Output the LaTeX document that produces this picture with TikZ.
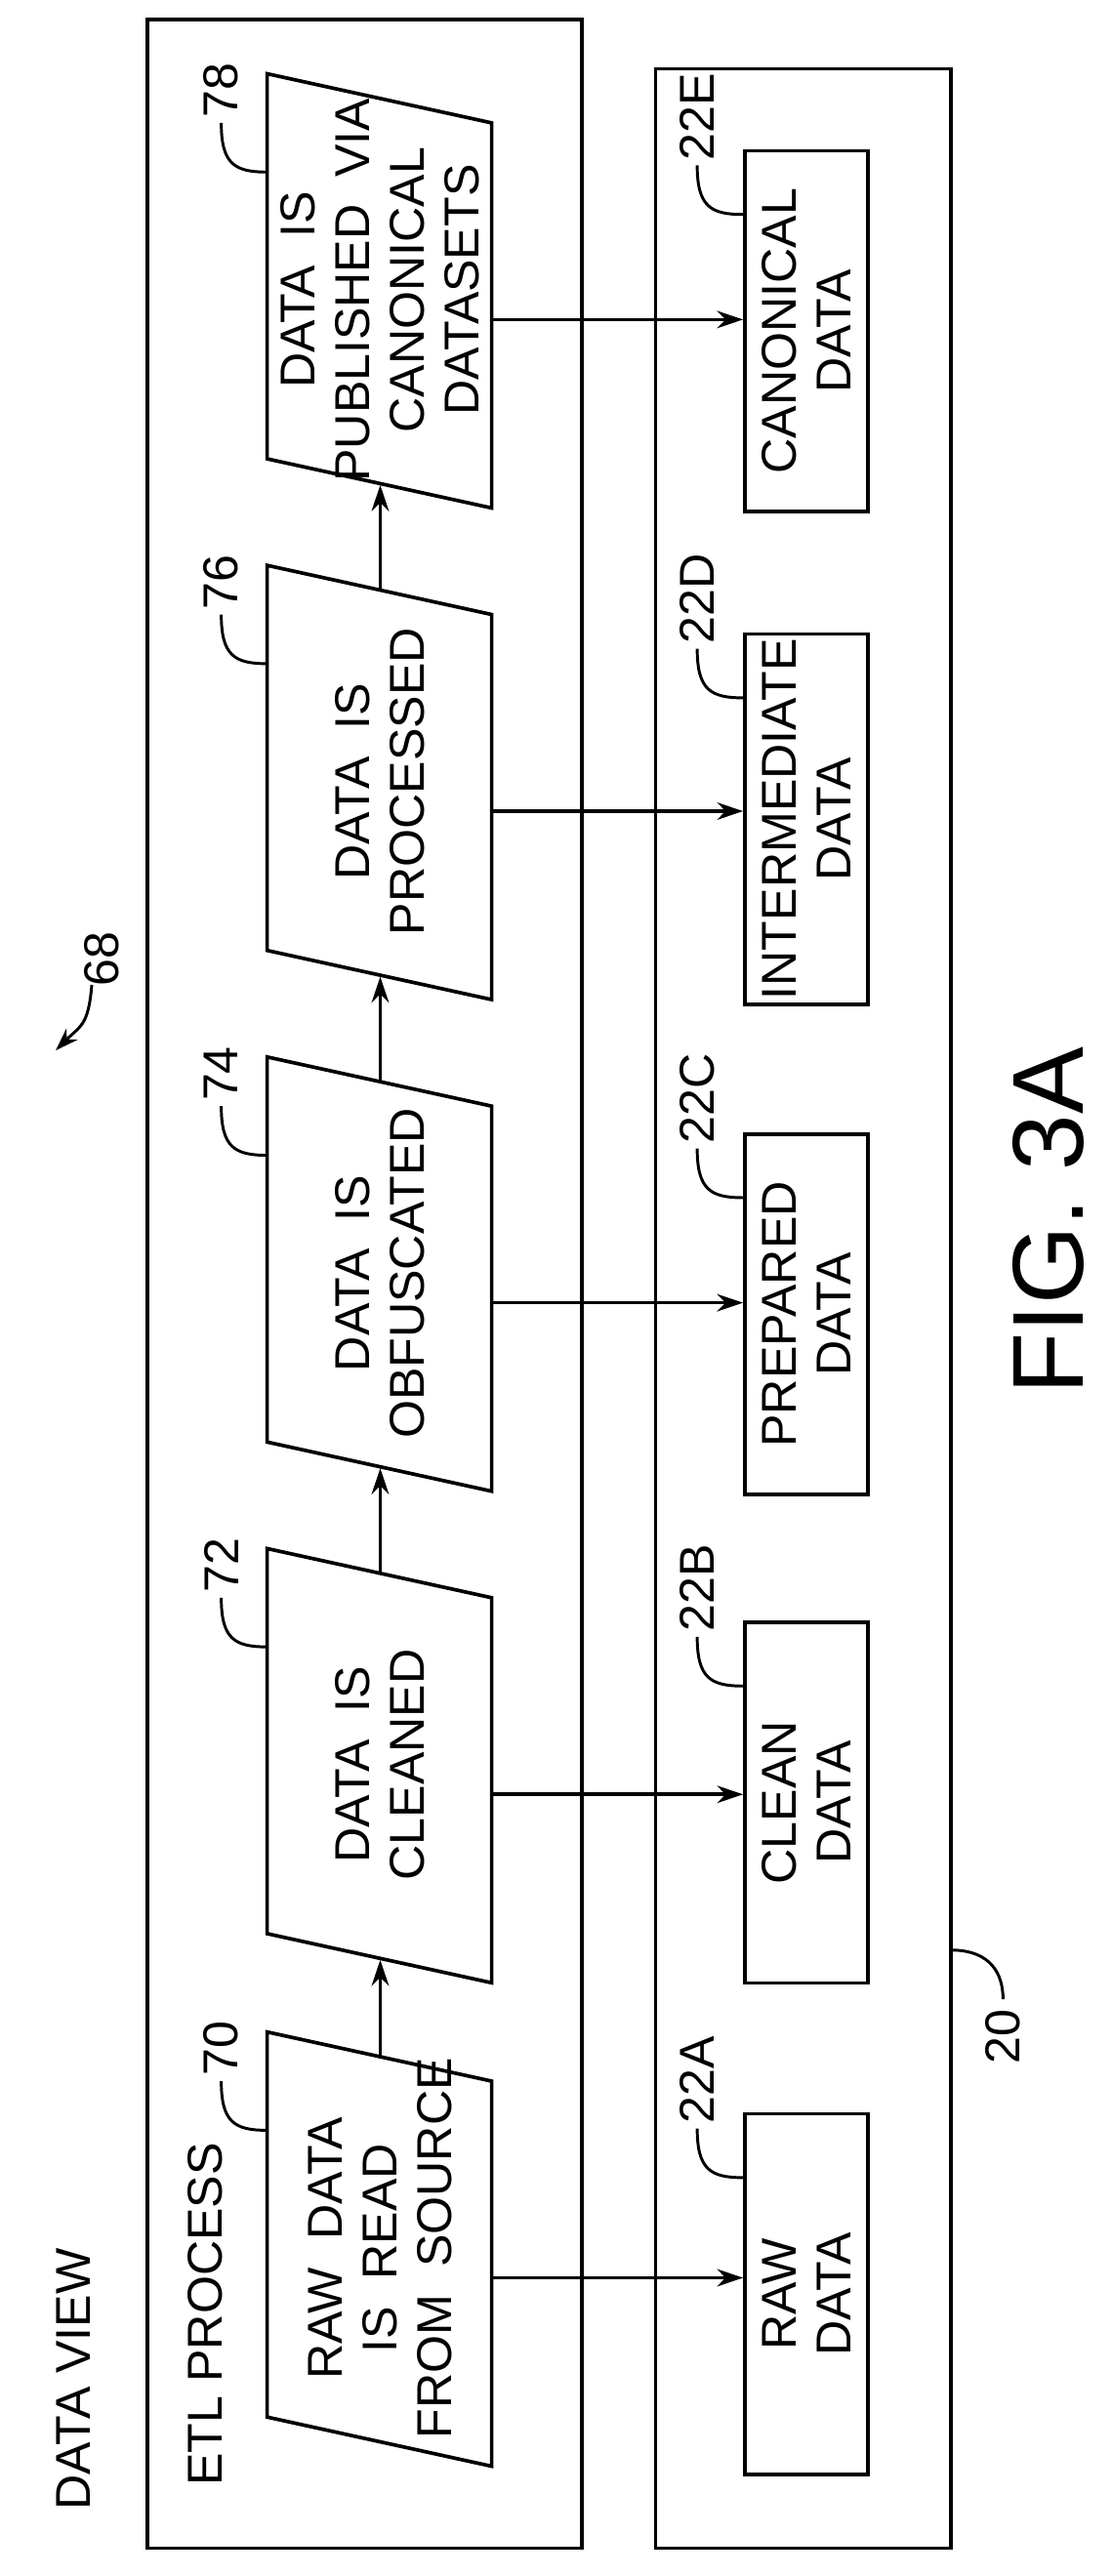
\documentclass[tikz,border=0pt]{standalone}
\usepackage{fontspec}
\setmainfont{Liberation Sans}
\usetikzlibrary{arrows.meta, positioning, calc}
\tikzset{
    frame/.style={draw, line width=2.5pt},
    stepbox/.style={draw, line width=2.5pt},
    store/.style={draw, line width=2.5pt, minimum width=8.8cm, minimum height=3cm,
        rotate=90, align=center, font=\fontsize{34}{38}\selectfont},
    steptext/.style={rotate=90, align=center, font=\fontsize{34}{38}\selectfont},
    flow/.style={-{Stealth[length=18pt,width=12pt]}, line width=2.5pt},
    leader/.style={line width=2pt},
    refnum/.style={rotate=90, font=\fontsize{34}{38}\selectfont, anchor=west}
}
% parallelogram step: name, top y at left edge, text
\newcommand{\etlstep}[3]{
    \draw[stepbox] (163,#2) coordinate (#1tl) -- (300,#2+30) coordinate (#1tr)
        -- (300,#2+265) coordinate (#1br) -- (163,#2+235) coordinate (#1bl) -- cycle;
    \coordinate (#1top) at (232,#2+16);
    \coordinate (#1bot) at (232,#2+251);
    \coordinate (#1out) at (300,#2+150);
    \node[steptext] (#1) at (232,#2+132) {#3};
}
\begin{document}
\begin{tikzpicture}[x=0.04cm, y=-0.04cm]
    \useasboundingbox (0,0) rectangle (678,1572);

    % frames
    \draw[frame] (90,12) rectangle (355,1555);
    \draw[frame] (400,42) rectangle (580,1555);
    \node[refnum] (dataview) at (45,1535) {DATA VIEW};
    \node[refnum] (etl) at (125,1520) {ETL PROCESS};

    % ETL steps
    \etlstep{raw}{1240}{RAW\ \ DATA\\IS\ \ READ\\FROM\ \ SOURCE}
    \etlstep{clean}{945}{DATA\ \ IS\\CLEANED}
    \etlstep{obf}{645}{DATA\ \ IS\\OBFUSCATED}
    \etlstep{proc}{345}{DATA\ \ IS\\PROCESSED}
    \etlstep{pub}{45}{DATA\ \ IS\\PUBLISHED\ \ VIA\\CANONICAL\\DATASETS}

    \draw[flow] (rawtop) -- (cleanbot);
    \draw[flow] (cleantop) -- (obfbot);
    \draw[flow] (obftop) -- (procbot);
    \draw[flow] (proctop) -- (pubbot);

    % data stores
    \node[store] (rawdata) at (492,1400) {RAW\\DATA};
    \node[store] (cleandata) at (492,1100) {CLEAN\\DATA};
    \node[store] (prepdata) at (492,802) {PREPARED\\DATA};
    \node[store] (interdata) at (492,500) {INTERMEDIATE\\DATA};
    \node[store] (canondata) at (492,202) {CANONICAL\\DATA};

    \draw[flow] (rawout) -- (rawout -| rawdata.north);
    \draw[flow] (cleanout) -- (cleanout -| cleandata.north);
    \draw[flow] (obfout) -- (obfout -| prepdata.north);
    \draw[flow] (procout) -- (procout -| interdata.north);
    \draw[flow] (pubout) -- (pubout -| canondata.north);

    % reference numerals
    \foreach \s/\n in {raw/70, clean/72, obf/74, proc/76, pub/78} {
        \draw[leader] ($(\s tl)+(0,60)$) .. controls ++(-20,0) and ++(0,25) .. ++(-28,-30) coordinate (\s lab);
        \node[refnum] at (\s lab) {\n};
    }
    \foreach \s/\n in {rawdata/22A, cleandata/22B, prepdata/22C, interdata/22D, canondata/22E} {
        \draw[leader] ($(\s.north east)+(0,40)$) .. controls ++(-20,0) and ++(0,25) .. ++(-28,-30) coordinate (\s lab);
        \node[refnum] at (\s lab) {\n};
    }
    \coordinate (sys) at (580,1190);
    \draw[leader] (sys) .. controls ++(25,0) and ++(0,-15) .. ++(32,30) coordinate (syslab);
    \node[refnum, anchor=east] at ($(syslab)+(0,3)$) {20};

    \node[refnum] (fig) at (62,605) {68};
    \draw[-{Stealth[length=16pt,width=11pt]}, line width=2pt] ($(fig.west)+(-6,-4)$) .. controls ++(-2,25) and ++(15,-15) .. ++(-22,40);

    \node[rotate=90, font=\fontsize{70}{74}\selectfont] (caption) at (640,745) {FIG. 3A};
\end{tikzpicture}
\end{document}
